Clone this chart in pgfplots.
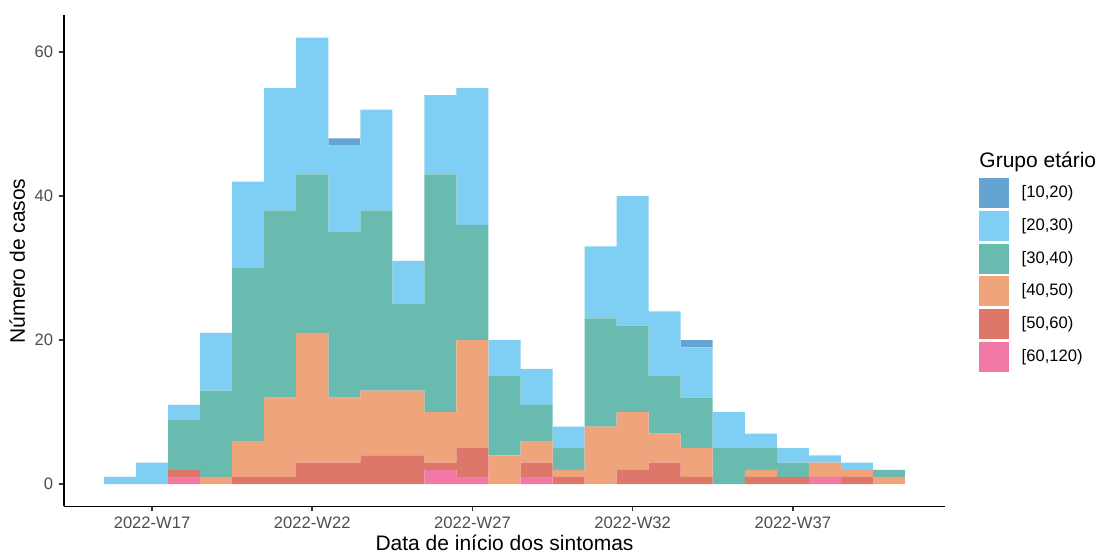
\documentclass[border=0pt]{standalone}
\usepackage{pgfplots}
\usepackage{pgfplotstable}
\pgfplotsset{compat=1.18}
\usepackage{fontspec}
\setmainfont{Liberation Sans}

\definecolor{c1020}{RGB}{100,163,210}
\definecolor{c2030}{RGB}{126,207,243}
\definecolor{c3040}{RGB}{106,187,175}
\definecolor{c4050}{RGB}{240,164,123}
\definecolor{c5060}{RGB}{220,119,106}
\definecolor{c60120}{RGB}{242,120,165}

% casos por semana epidemiologica e grupo etario
\pgfplotstableread{
week a1020 a2030 a3040 a4050 a5060 a60120
16 0 1 0 0 0 0
17 0 3 0 0 0 0
18 0 2 7 0 1 1
19 0 8 12 1 0 0
20 0 12 24 5 1 0
21 0 17 26 11 1 0
22 0 19 22 18 3 0
23 1 12 23 9 3 0
24 0 14 25 9 4 0
25 0 6 12 9 4 0
26 0 11 33 7 1 2
27 0 19 16 15 4 1
28 0 5 11 4 0 0
29 0 5 5 3 2 1
30 0 3 3 1 1 0
31 0 10 15 8 0 0
32 0 18 12 8 2 0
33 0 9 8 4 3 0
34 1 7 7 4 1 0
35 0 5 5 0 0 0
36 0 2 3 1 1 0
37 0 2 2 0 1 0
38 0 1 0 2 0 1
39 0 1 0 1 1 0
40 0 0 1 1 0 0
}\casos

\begin{document}
\begin{tikzpicture}
\begin{axis}[
    scale only axis,
    width=440.5pt, height=245.6pt,
    xmin=14.25, xmax=41.75,
    ymin=-3.1, ymax=65.1,
    clip=false,
    axis lines=left,
    axis line style={-, line width=0.8pt, black},
    xtick={17,22,27,32,37},
    xticklabels={2022-W17,2022-W22,2022-W27,2022-W32,2022-W37},
    ytick={0,20,40,60},
    tick align=outside,
    major tick length=2.5pt,
    tick style={line width=0.8pt, black!80},
    tick label style={font=\fontsize{8.3}{10}\selectfont, text=black!70, inner sep=0pt},
    xticklabel shift=2.6pt,
    yticklabel shift=2.75pt,
    /pgf/number format/assume math mode=true,
    xlabel={Data de início dos sintomas},
    ylabel={Número de casos},
    xlabel style={at={(axis description cs:0.5,-0.0906)}, anchor=base,
        font=\fontsize{10.5}{12}\selectfont, inner sep=0pt},
    ylabel style={at={(axis description cs:-0.0443,0.5)}, anchor=base,
        font=\fontsize{10.5}{12}\selectfont, inner sep=0pt},
    ybar stacked,
    bar width=1,
    legend image code/.code={\fill[#1] (0pt,-7.5pt) rectangle (15pt,7.5pt);},
    reverse legend,
    legend style={draw=none, fill=none, at={(1.0386,0.6682)}, anchor=north west,
        inner sep=0pt, outer sep=0pt, row sep=1.35pt, column sep=6.35pt,
        font=\fontsize{8.3}{10}\selectfont,
        nodes={inner sep=0pt}},
    legend cell align=left,
]
\addplot[fill=c60120, draw=none] table[x=week, y=a60120] {\casos};
\addlegendentry{\lbrack 60,120)}
\addplot[fill=c5060, draw=none] table[x=week, y=a5060] {\casos};
\addlegendentry{\lbrack 50,60)}
\addplot[fill=c4050, draw=none] table[x=week, y=a4050] {\casos};
\addlegendentry{\lbrack 40,50)}
\addplot[fill=c3040, draw=none] table[x=week, y=a3040] {\casos};
\addlegendentry{\lbrack 30,40)}
\addplot[fill=c2030, draw=none] table[x=week, y=a2030] {\casos};
\addlegendentry{\lbrack 20,30)}
\addplot[fill=c1020, draw=none] table[x=week, y=a1020] {\casos};
\addlegendentry{\lbrack 10,20)}

\node[anchor=base west, inner sep=0pt, font=\fontsize{10.5}{12}\selectfont]
    at (axis description cs:1.0386,0.6891) {Grupo etário};
\path (axis description cs:-0.0726,-0.0967) rectangle (axis description cs:1.1725,1.0311);
\end{axis}
\end{tikzpicture}
\end{document}
